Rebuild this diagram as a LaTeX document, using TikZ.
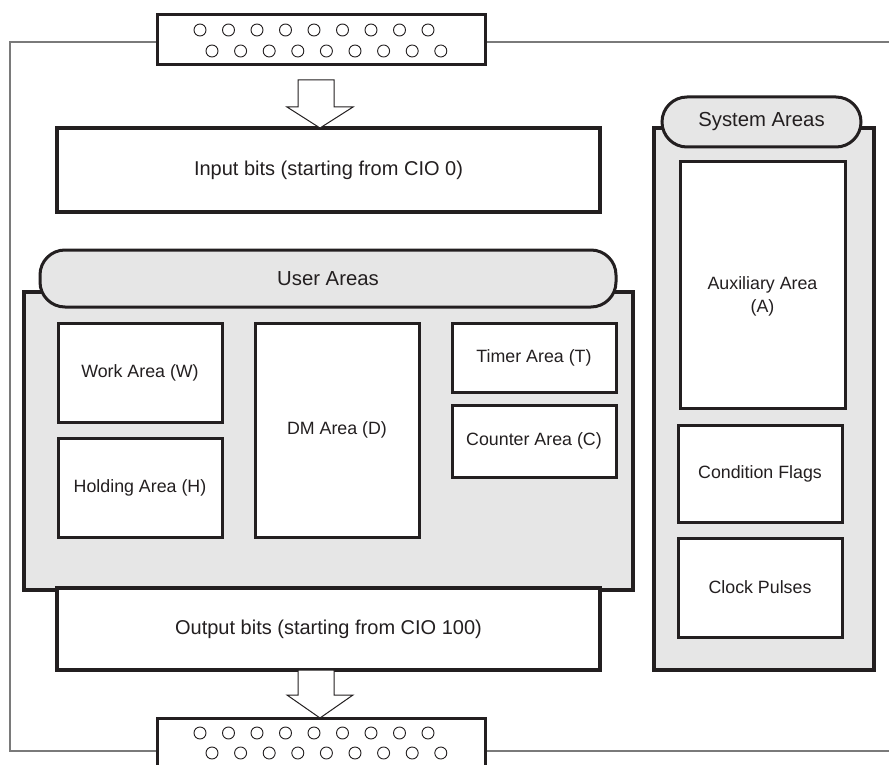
\documentclass[tikz,border=0pt]{standalone}
\usepackage{fontspec}
\setmainfont{Liberation Sans}
\definecolor{ink}{HTML}{231F20}
\definecolor{panel}{HTML}{E6E6E6}
\definecolor{framegray}{HTML}{7A7A7A}
\begin{document}
\begin{tikzpicture}[x=1pt,y=-1pt,
  bigbox/.style={draw=ink, line width=4pt, fill=white, inner sep=0pt, text=ink, font=\fontsize{20}{24}\selectfont},
  area/.style={draw=ink, line width=3pt, fill=white, inner sep=0pt, align=center, text=ink, font=\fontsize{17.8}{22}\selectfont},
  panelbox/.style={draw=ink, line width=4pt, fill=panel, inner sep=0pt},
  pill/.style={draw=ink, line width=3pt, fill=panel, inner sep=0pt, rounded corners=25pt, text=ink, font=\fontsize{20.3}{24}\selectfont},
  frameline/.style={draw=framegray, line width=1.2pt},
  hole/.style={draw=ink, line width=0.9pt, fill=white, circle, minimum size=12pt, inner sep=0pt},
  blockarrow/.style={draw=ink, line width=1pt, fill=white, line join=miter},
  plain/.style={inner sep=0pt, align=center, text=ink, font=\fontsize{17.8}{23}\selectfont}]
\useasboundingbox[fill=white] (0,0) rectangle (889,765);

% outer frame
\draw[frameline] (157,42) -- (10,42) -- (10,751) -- (157,751);
\draw[frameline] (485,42) -- (889,42);
\draw[frameline] (485,751) -- (889,751);

% connectors (terminal blocks)
\node[bigbox, line width=3pt, minimum width=328pt, minimum height=50pt] (topconn) at (321,40) {};
\node[bigbox, line width=3pt, minimum width=328pt, minimum height=50pt] (botconn) at (321,743) {};
\foreach \i in {0,...,8} {
  \node[hole] (th1\i) at (200+28.5*\i,30) {};
  \node[hole] (th2\i) at (212+28.6*\i,51) {};
  \node[hole] (bh1\i) at (200+28.5*\i,733) {};
  \node[hole] (bh2\i) at (212+28.6*\i,753) {};
}

% input bits
\node[bigbox, minimum width=543pt, minimum height=84pt] (inp) at (328.5,170) {Input bits (starting from CIO 0)};

% block arrows
\draw[blockarrow] (298,80) -- (334,80) -- (334,107) -- (353,107) -- (320,128) -- (287,107) -- (298,107) -- cycle;

% user areas
\node[panelbox, minimum width=609pt, minimum height=298pt] (usr) at (328.5,441) {};
\node[pill, minimum width=576pt, minimum height=57pt] (usrhead) at (328,278.5) {User Areas};
\node[area, minimum width=164pt, minimum height=99pt] (work) at (140,372.5) {Work Area (W)};
\node[area, minimum width=164pt, minimum height=99pt] (hold) at (140,487.5) {Holding Area (H)};
\node[area, minimum width=164pt, minimum height=214pt] (dm) at (337,430) {DM Area (D)};
\node[area, minimum width=164pt, minimum height=69pt] (timer) at (534,357.5) {Timer Area (T)};
\node[area, minimum width=164pt, minimum height=72pt] (counter) at (534,441) {Counter Area (C)};

% output bits
\node[bigbox, minimum width=543pt, minimum height=82pt] (out) at (328.5,629) {Output bits (starting from CIO 100)};
\draw[blockarrow] (298,670) -- (334,670) -- (334,695) -- (353,695) -- (320,718) -- (287,695) -- (298,695) -- cycle;

% system areas
\node[panelbox, minimum width=220pt, minimum height=542pt] (sys) at (764,399) {};
\node[pill, minimum width=199pt, minimum height=50pt] (syshead) at (761.5,122) {System Areas};
\node[area, minimum width=165pt, minimum height=246pt] (aux) at (762.5,285) {};
\node[plain] (auxt) at (762.5,296.5) {Auxiliary Area\\(A)};
\node[area, minimum width=164pt, minimum height=97pt] (cond) at (760,473.5) {Condition Flags};
\node[area, minimum width=164pt, minimum height=99pt] (clock) at (760,587.5) {Clock Pulses};
\end{tikzpicture}
\end{document}
